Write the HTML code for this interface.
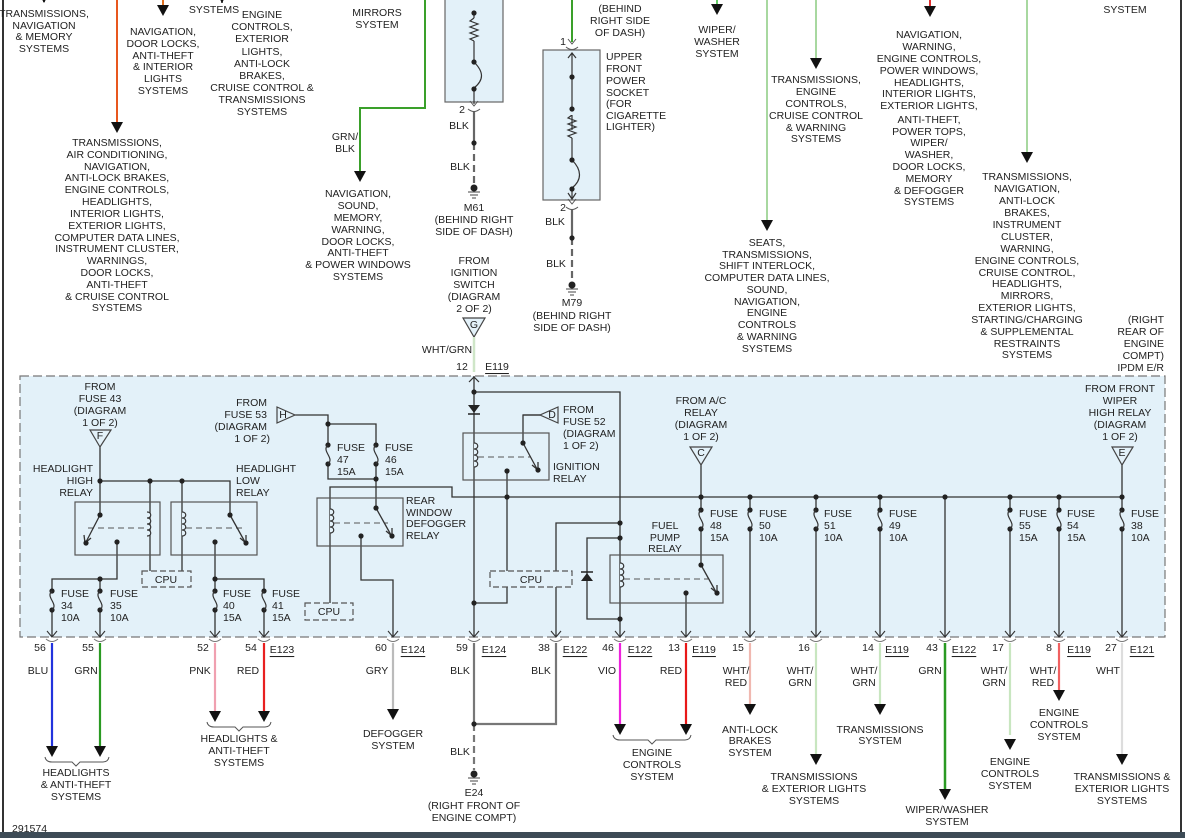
<!DOCTYPE html>
<html><head><meta charset="utf-8"><style>
html,body{margin:0;padding:0;background:#fff;}
svg{display:block;}
text{font-family:"Liberation Sans",sans-serif;font-size:10.5px;fill:#222;dominant-baseline:central;}
.c{text-anchor:middle;}
.r{text-anchor:end;}
.u{text-decoration:underline;}
</style></head><body>
<svg width="1185" height="838" viewBox="0 0 1185 838" xmlns="http://www.w3.org/2000/svg">
<defs>
<g id="fz"><circle cx="0" cy="0" r="2.6" fill="#222"/><circle cx="0" cy="19" r="2.6" fill="#222"/><path d="M0,0 C-7,6 7,13 0,19" fill="none" stroke="#333" stroke-width="1.2"/></g>
<polygon id="ar" points="-6,-11 6,-11 0,0" fill="#111"/>
<g id="tm"><path d="M-4,-7 L0,-2 L4,-7" fill="none" stroke="#555" stroke-width="1"/><path d="M-6,1 Q0,6 6,1" fill="none" stroke="#555" stroke-width="1"/></g>
<circle id="dt" r="2.6" fill="#222"/>
</defs>
<rect width="1185" height="838" fill="#fff"/>
<line x1="3" y1="0" x2="3" y2="832" stroke="#333" stroke-width="2"/>
<line x1="1181" y1="0" x2="1181" y2="832" stroke="#333" stroke-width="2"/>
<rect x="0" y="832" width="1185" height="6" fill="#3d4b56"/>

<rect x="20" y="376" width="1145" height="261" fill="#e3f1f9" stroke="#777" stroke-width="1.2" stroke-dasharray="9,4"/>

<g stroke-width="2" fill="none">
<line x1="44" y1="0" x2="44" y2="2" stroke="#666"/>
<line x1="117" y1="0" x2="117" y2="122" stroke="#e8571e"/>
<line x1="163" y1="0" x2="163" y2="5" stroke="#e07020"/>
<line x1="222" y1="0" x2="222" y2="3" stroke="#666"/>
<path d="M425,0 V108 H360 V172" stroke="#3aa02a"/>
<line x1="572" y1="0" x2="572" y2="42" stroke="#3aa02a"/>
<line x1="717" y1="0" x2="717" y2="5" stroke="#6c6"/>
<line x1="767" y1="0" x2="767" y2="220" stroke="#a8d8a0"/>
<line x1="816" y1="0" x2="816" y2="58" stroke="#a8d8a0"/>
<line x1="930" y1="0" x2="930" y2="6" stroke="#e03030"/>
<line x1="1027" y1="0" x2="1027" y2="152" stroke="#a8d8a0"/>
</g>
<use href="#ar" x="117" y="133"/><use href="#ar" x="163" y="16"/><use href="#ar" x="360" y="182"/>
<use href="#ar" x="717" y="15"/><use href="#ar" x="767" y="231"/><use href="#ar" x="816" y="69"/>
<use href="#ar" x="930" y="17"/><use href="#ar" x="1027" y="163"/>
<use href="#ar" x="44" y="3"/><use href="#ar" x="222" y="3"/>

<text class="c" x="44"><tspan x="44" y="14">TRANSMISSIONS,</tspan><tspan x="44" y="26">NAVIGATION</tspan><tspan x="44" y="37">&amp; MEMORY</tspan><tspan x="44" y="49">SYSTEMS</tspan></text>
<text class="c"><tspan x="163" y="32">NAVIGATION,</tspan><tspan x="163" y="44">DOOR LOCKS,</tspan><tspan x="163" y="56">ANTI-THEFT</tspan><tspan x="163" y="67">&amp; INTERIOR</tspan><tspan x="163" y="79">LIGHTS</tspan><tspan x="163" y="91">SYSTEMS</tspan></text>
<text class="c" x="214" y="10">SYSTEMS</text>
<text class="c"><tspan x="262" y="15">ENGINE</tspan><tspan x="262" y="27">CONTROLS,</tspan><tspan x="262" y="39">EXTERIOR</tspan><tspan x="262" y="52">LIGHTS,</tspan><tspan x="262" y="64">ANTI-LOCK</tspan><tspan x="262" y="76">BRAKES,</tspan><tspan x="262" y="88">CRUISE CONTROL &amp;</tspan><tspan x="262" y="100">TRANSMISSIONS</tspan><tspan x="262" y="112">SYSTEMS</tspan></text>
<text class="c"><tspan x="377" y="13">MIRRORS</tspan><tspan x="377" y="25">SYSTEM</tspan></text>
<text class="c"><tspan x="117" y="143">TRANSMISSIONS,</tspan><tspan x="117" y="155">AIR CONDITIONING,</tspan><tspan x="117" y="167">NAVIGATION,</tspan><tspan x="117" y="178">ANTI-LOCK BRAKES,</tspan><tspan x="117" y="190">ENGINE CONTROLS,</tspan><tspan x="117" y="202">HEADLIGHTS,</tspan><tspan x="117" y="214">INTERIOR LIGHTS,</tspan><tspan x="117" y="226">EXTERIOR LIGHTS,</tspan><tspan x="117" y="238">COMPUTER DATA LINES,</tspan><tspan x="117" y="249">INSTRUMENT CLUSTER,</tspan><tspan x="117" y="261">WARNINGS,</tspan><tspan x="117" y="273">DOOR LOCKS,</tspan><tspan x="117" y="285">ANTI-THEFT</tspan><tspan x="117" y="297">&amp; CRUISE CONTROL</tspan><tspan x="117" y="308">SYSTEMS</tspan></text>
<text class="c"><tspan x="345" y="137">GRN/</tspan><tspan x="345" y="149">BLK</tspan></text>
<text class="c"><tspan x="358" y="194">NAVIGATION,</tspan><tspan x="358" y="206">SOUND,</tspan><tspan x="358" y="218">MEMORY,</tspan><tspan x="358" y="230">WARNING,</tspan><tspan x="358" y="242">DOOR LOCKS,</tspan><tspan x="358" y="253">ANTI-THEFT</tspan><tspan x="358" y="265">&amp; POWER WINDOWS</tspan><tspan x="358" y="277">SYSTEMS</tspan></text>

<rect x="445" y="-2" width="58" height="104" fill="#e3f1f9" stroke="#666" stroke-width="1.2"/>
<g stroke="#333" stroke-width="1.2" fill="none">
<line x1="474" y1="12" x2="474" y2="18"/>
<path d="M474,18 l-4,3 8,3 -8,3 8,3 -8,3 8,3 -8,3 4,2"/>
<line x1="474" y1="41" x2="474" y2="62"/>
<path d="M474,62 C484,72 484,80 474,88"/>
<line x1="474" y1="88" x2="474" y2="104"/>
</g>
<use href="#dt" x="474" y="13"/><use href="#dt" x="474" y="62"/><use href="#dt" x="474" y="89"/>
<use href="#tm" x="474" y="108"/>
<text x="462" y="110" class="c">2</text>
<line x1="474" y1="112" x2="474" y2="143" stroke="#666" stroke-width="2.2"/>
<line x1="474" y1="143" x2="474" y2="186" stroke="#666" stroke-width="2.2" stroke-dasharray="7,4"/>
<use href="#dt" x="474" y="143"/>
<text x="459" y="126" class="c">BLK</text><text x="460" y="167" class="c">BLK</text>
<circle cx="474" cy="188" r="3.5" fill="#222"/>
<g stroke="#444" stroke-width="1"><line x1="468" y1="192" x2="480" y2="192"/><line x1="470" y1="195" x2="478" y2="195"/><line x1="472" y1="198" x2="476" y2="198"/></g>
<text class="c"><tspan x="474" y="208">M61</tspan><tspan x="474" y="220">(BEHIND RIGHT</tspan><tspan x="474" y="232">SIDE OF DASH)</tspan></text>
<text class="c"><tspan x="474" y="261">FROM</tspan><tspan x="474" y="273">IGNITION</tspan><tspan x="474" y="285">SWITCH</tspan><tspan x="474" y="297">(DIAGRAM</tspan><tspan x="474" y="309">2 OF 2)</tspan></text>
<polygon points="463,318 485,318 474,337" fill="#e3f1f9" stroke="#444" stroke-width="1.2"/>
<text x="474" y="325" class="c">G</text>
<line x1="474" y1="337" x2="474" y2="372" stroke="#cfe6c8" stroke-width="2.5"/>
<text x="447" y="350" class="c">WHT/GRN</text>
<text x="462" y="367" class="c">12</text><text x="497" y="367" class="c u">E119</text>

<use href="#tm" x="572" y="46"/>
<text x="563" y="42" class="c">1</text>
<rect x="543" y="50" width="57" height="150" fill="#e3f1f9" stroke="#666" stroke-width="1.2"/>
<g stroke="#333" stroke-width="1.2" fill="none">
<line x1="572" y1="53" x2="572" y2="130"/><path d="M568,58 L572,53 576,58"/>
<path d="M572,115 l-4,3 8,3 -8,3 8,3 -8,3 8,3 -8,3 4,2"/>
<line x1="572" y1="138" x2="572" y2="160"/>
<path d="M572,160 C582,170 582,180 572,188"/>
<line x1="572" y1="188" x2="572" y2="199"/><path d="M568,193 L572,199 576,193"/>
</g>
<rect x="571" y="110" width="2" height="5" fill="#e3f1f9"/>
<use href="#dt" x="572" y="77"/><use href="#dt" x="572" y="109"/><use href="#dt" x="572" y="160"/><use href="#dt" x="572" y="189"/>
<use href="#tm" x="572" y="206"/><text x="563" y="208" class="c">2</text>
<line x1="572" y1="210" x2="572" y2="238" stroke="#666" stroke-width="2.2"/>
<line x1="572" y1="238" x2="572" y2="283" stroke="#666" stroke-width="2.2" stroke-dasharray="7,4"/>
<use href="#dt" x="572" y="238"/>
<text x="555" y="222" class="c">BLK</text><text x="556" y="264" class="c">BLK</text>
<circle cx="572" cy="285" r="3.5" fill="#222"/>
<g stroke="#444" stroke-width="1"><line x1="566" y1="289" x2="578" y2="289"/><line x1="568" y1="292" x2="576" y2="292"/><line x1="570" y1="295" x2="574" y2="295"/></g>
<text class="c"><tspan x="572" y="303">M79</tspan><tspan x="572" y="316">(BEHIND RIGHT</tspan><tspan x="572" y="328">SIDE OF DASH)</tspan></text>
<text class="c"><tspan x="620" y="9">(BEHIND</tspan><tspan x="620" y="21">RIGHT SIDE</tspan><tspan x="620" y="33">OF DASH)</tspan></text>
<text><tspan x="606" y="57">UPPER</tspan><tspan x="606" y="69">FRONT</tspan><tspan x="606" y="81">POWER</tspan><tspan x="606" y="93">SOCKET</tspan><tspan x="606" y="104">(FOR</tspan><tspan x="606" y="116">CIGARETTE</tspan><tspan x="606" y="127">LIGHTER)</tspan></text>

<text class="c"><tspan x="717" y="30">WIPER/</tspan><tspan x="717" y="42">WASHER</tspan><tspan x="717" y="54">SYSTEM</tspan></text>
<text class="c"><tspan x="767" y="243">SEATS,</tspan><tspan x="767" y="255">TRANSMISSIONS,</tspan><tspan x="767" y="266">SHIFT INTERLOCK,</tspan><tspan x="767" y="278">COMPUTER DATA LINES,</tspan><tspan x="767" y="290">SOUND,</tspan><tspan x="767" y="302">NAVIGATION,</tspan><tspan x="767" y="313">ENGINE</tspan><tspan x="767" y="325">CONTROLS</tspan><tspan x="767" y="337">&amp; WARNING</tspan><tspan x="767" y="349">SYSTEMS</tspan></text>
<text class="c"><tspan x="816" y="80">TRANSMISSIONS,</tspan><tspan x="816" y="92">ENGINE</tspan><tspan x="816" y="104">CONTROLS,</tspan><tspan x="816" y="116">CRUISE CONTROL</tspan><tspan x="816" y="128">&amp; WARNING</tspan><tspan x="816" y="139">SYSTEMS</tspan></text>
<text class="c"><tspan x="929" y="35">NAVIGATION,</tspan><tspan x="929" y="47">WARNING,</tspan><tspan x="929" y="59">ENGINE CONTROLS,</tspan><tspan x="929" y="71">POWER WINDOWS,</tspan><tspan x="929" y="83">HEADLIGHTS,</tspan><tspan x="929" y="94">INTERIOR LIGHTS,</tspan><tspan x="929" y="106">EXTERIOR LIGHTS,</tspan><tspan x="929" y="120">ANTI-THEFT,</tspan><tspan x="929" y="132">POWER TOPS,</tspan><tspan x="929" y="143">WIPER/</tspan><tspan x="929" y="155">WASHER,</tspan><tspan x="929" y="167">DOOR LOCKS,</tspan><tspan x="929" y="179">MEMORY</tspan><tspan x="929" y="191">&amp; DEFOGGER</tspan><tspan x="929" y="202">SYSTEMS</tspan></text>
<text class="c"><tspan x="1027" y="177">TRANSMISSIONS,</tspan><tspan x="1027" y="189">NAVIGATION,</tspan><tspan x="1027" y="201">ANTI-LOCK</tspan><tspan x="1027" y="213">BRAKES,</tspan><tspan x="1027" y="225">INSTRUMENT</tspan><tspan x="1027" y="237">CLUSTER,</tspan><tspan x="1027" y="249">WARNING,</tspan><tspan x="1027" y="261">ENGINE CONTROLS,</tspan><tspan x="1027" y="273">CRUISE CONTROL,</tspan><tspan x="1027" y="284">HEADLIGHTS,</tspan><tspan x="1027" y="296">MIRRORS,</tspan><tspan x="1027" y="308">EXTERIOR LIGHTS,</tspan><tspan x="1027" y="320">STARTING/CHARGING</tspan><tspan x="1027" y="332">&amp; SUPPLEMENTAL</tspan><tspan x="1027" y="344">RESTRAINTS</tspan><tspan x="1027" y="355">SYSTEMS</tspan></text>
<text class="c" x="1125" y="10">SYSTEM</text>
<text class="r"><tspan x="1164" y="320">(RIGHT</tspan><tspan x="1164" y="332">REAR OF</tspan><tspan x="1164" y="344">ENGINE</tspan><tspan x="1164" y="356">COMPT)</tspan><tspan x="1164" y="368">IPDM E/R</tspan></text>

<g stroke="#333" stroke-width="1.3" fill="none">
<path d="M100,447 V481 H230 V515"/>
<line x1="150" y1="481" x2="150" y2="571"/>
<line x1="182" y1="481" x2="182" y2="571"/>
<path d="M100,481 V515"/>
<path d="M117,542 V579 H52 V637"/>
<line x1="100" y1="579" x2="100" y2="637"/>
<path d="M215,542 V579 H264 V637"/>
<line x1="215" y1="579" x2="215" y2="637"/>
<path d="M295,415 H328 V479 H376 V424 H328"/>
<line x1="376" y1="479" x2="376" y2="508"/>
<path d="M330,603 V487 H452 V497 H1122"/>
<path d="M361,536 V580 H393 V637"/>
<line x1="474" y1="376" x2="474" y2="637"/>
<path d="M474,392 H620 V637"/>
<path d="M558,415 H523 V443"/>
<path d="M507,471 V571"/>
<path d="M507,587 V603 H474"/>
<path d="M556,571 V523 H620"/>
<line x1="556" y1="587" x2="556" y2="637"/>
<path d="M620,538 H587 V619 H620"/>
<path d="M686,593 V637"/>
<path d="M701,465 V565"/>
<line x1="750" y1="497" x2="750" y2="637"/>
<line x1="816" y1="497" x2="816" y2="637"/>
<line x1="880" y1="497" x2="880" y2="637"/>
<line x1="945" y1="497" x2="945" y2="637"/>
<line x1="1010" y1="497" x2="1010" y2="637"/>
<line x1="1059" y1="497" x2="1059" y2="637"/>
<line x1="1122" y1="465" x2="1122" y2="637"/>
</g>
<g fill="none" stroke="#555" stroke-width="1.2">
<rect x="75" y="502" width="85" height="53"/>
<rect x="171" y="502" width="86" height="53"/>
<rect x="317" y="498" width="86" height="48"/>
<rect x="463" y="433" width="86" height="47"/>
<rect x="610" y="555" width="113" height="48"/>
</g>
<g fill="#e3f1f9" stroke="#333" stroke-width="1.2">
<path d="M147,512 c5,0 5,6 0,6 c5,0 5,6 0,6 c5,0 5,6 0,6 c5,0 5,6 0,6"/>
<path d="M182,512 c5,0 5,6 0,6 c5,0 5,6 0,6 c5,0 5,6 0,6 c5,0 5,6 0,6"/>
<path d="M330,509 c5,0 5,6 0,6 c5,0 5,6 0,6 c5,0 5,6 0,6 c5,0 5,6 0,6"/>
<path d="M474,443 c5,0 5,6 0,6 c5,0 5,6 0,6 c5,0 5,6 0,6 c5,0 5,6 0,6"/>
<path d="M620,563 c5,0 5,6 0,6 c5,0 5,6 0,6 c5,0 5,6 0,6 c5,0 5,6 0,6"/>
</g>
<g stroke="#555" stroke-width="1" stroke-dasharray="6,4"><line x1="88" y1="528" x2="145" y2="528"/><line x1="186" y1="528" x2="243" y2="528"/><line x1="334" y1="523" x2="388" y2="523"/><line x1="478" y1="457" x2="530" y2="457"/><line x1="624" y1="579" x2="708" y2="579"/></g>
<g stroke="#333" stroke-width="1.3" fill="none">
<line x1="100" y1="515" x2="86" y2="542"/><path d="M84,535 L85,543 91,538"/>
<line x1="230" y1="515" x2="245" y2="542"/><path d="M240,538 L246,543 246,535"/>
<line x1="376" y1="508" x2="391" y2="535"/><path d="M386,531 L392,536 392,528"/>
<line x1="523" y1="443" x2="537" y2="469"/><path d="M532,465 L538,470 538,462"/>
<line x1="701" y1="565" x2="716" y2="592"/><path d="M711,588 L717,593 717,585"/>
</g>
<g>
<use href="#dt" x="100" y="515"/><use href="#dt" x="86" y="543"/><use href="#dt" x="117" y="542"/>
<use href="#dt" x="230" y="515"/><use href="#dt" x="246" y="543"/><use href="#dt" x="215" y="542"/>
<use href="#dt" x="376" y="508"/><use href="#dt" x="392" y="536"/><use href="#dt" x="361" y="536"/>
<use href="#dt" x="523" y="443"/><use href="#dt" x="538" y="470"/><use href="#dt" x="507" y="471"/>
<use href="#dt" x="701" y="565"/><use href="#dt" x="717" y="593"/><use href="#dt" x="686" y="593"/>
<use href="#dt" x="100" y="481"/><use href="#dt" x="150" y="481"/><use href="#dt" x="182" y="481"/>
<use href="#dt" x="100" y="579"/><use href="#dt" x="215" y="579"/>
<use href="#dt" x="328" y="424"/><use href="#dt" x="376" y="479"/>
<use href="#dt" x="474" y="392"/><use href="#dt" x="474" y="603"/>
<use href="#dt" x="620" y="523"/><use href="#dt" x="620" y="538"/><use href="#dt" x="620" y="619"/>
<use href="#dt" x="507" y="497"/><use href="#dt" x="701" y="497"/><use href="#dt" x="750" y="497"/><use href="#dt" x="816" y="497"/><use href="#dt" x="880" y="497"/><use href="#dt" x="945" y="497"/><use href="#dt" x="1010" y="497"/><use href="#dt" x="1059" y="497"/><use href="#dt" x="1122" y="497"/>
</g>
<g>
<rect x="45" y="591" width="14" height="19" fill="#e3f1f9"/><use href="#fz" x="52" y="591"/>
<rect x="93" y="591" width="14" height="19" fill="#e3f1f9"/><use href="#fz" x="100" y="591"/>
<rect x="208" y="591" width="14" height="19" fill="#e3f1f9"/><use href="#fz" x="215" y="591"/>
<rect x="257" y="591" width="14" height="19" fill="#e3f1f9"/><use href="#fz" x="264" y="591"/>
<rect x="321" y="445" width="14" height="19" fill="#e3f1f9"/><use href="#fz" x="328" y="445"/>
<rect x="369" y="445" width="14" height="19" fill="#e3f1f9"/><use href="#fz" x="376" y="445"/>
<rect x="694" y="510" width="14" height="19" fill="#e3f1f9"/><use href="#fz" x="701" y="510"/>
<rect x="743" y="510" width="14" height="19" fill="#e3f1f9"/><use href="#fz" x="750" y="510"/>
<rect x="809" y="510" width="14" height="19" fill="#e3f1f9"/><use href="#fz" x="816" y="510"/>
<rect x="873" y="510" width="14" height="19" fill="#e3f1f9"/><use href="#fz" x="880" y="510"/>
<rect x="1003" y="510" width="14" height="19" fill="#e3f1f9"/><use href="#fz" x="1010" y="510"/>
<rect x="1052" y="510" width="14" height="19" fill="#e3f1f9"/><use href="#fz" x="1059" y="510"/>
<rect x="1115" y="510" width="14" height="19" fill="#e3f1f9"/><use href="#fz" x="1122" y="510"/>
</g>
<polygon points="468,405 480,405 474,413" fill="#222"/><line x1="468" y1="414" x2="480" y2="414" stroke="#222" stroke-width="1.5"/>
<polygon points="581,581 593,581 587,573" fill="#222"/><line x1="581" y1="572" x2="593" y2="572" stroke="#222" stroke-width="1.5"/>
<path d="M469,382 L474,377 479,382" fill="none" stroke="#333" stroke-width="1.2"/>
<g fill="#e3f1f9" stroke="#555" stroke-width="1.2" stroke-dasharray="6,3">
<rect x="142" y="571" width="49" height="16"/>
<rect x="305" y="603" width="48" height="17"/>
<rect x="490" y="571" width="82" height="16"/>
</g>
<text x="166" y="580" class="c">CPU</text><text x="329" y="612" class="c">CPU</text><text x="531" y="580" class="c">CPU</text>
<g fill="#e3f1f9" stroke="#444" stroke-width="1.2">
<polygon points="90,430 111,430 100,447"/>
<polygon points="277,407 277,423 295,415"/>
<polygon points="558,407 558,423 540,415"/>
<polygon points="690,447 712,447 701,465"/>
<polygon points="1112,447 1133,447 1122,465"/>
</g>
<line x1="540" y1="415" x2="523" y2="415" stroke="#333" stroke-width="1.3"/>
<text x="100" y="436" class="c">F</text><text x="283" y="415" class="c">H</text><text x="552" y="415" class="c">D</text><text x="701" y="453" class="c">C</text><text x="1122" y="453" class="c">E</text>
<text class="c"><tspan x="100" y="387">FROM</tspan><tspan x="100" y="399">FUSE 43</tspan><tspan x="100" y="411">(DIAGRAM</tspan><tspan x="100" y="423">1 OF 2)</tspan></text>
<text class="r"><tspan x="93" y="469">HEADLIGHT</tspan><tspan x="93" y="481">HIGH</tspan><tspan x="93" y="493">RELAY</tspan></text>
<text><tspan x="236" y="469">HEADLIGHT</tspan><tspan x="236" y="481">LOW</tspan><tspan x="236" y="493">RELAY</tspan></text>
<text class="r"><tspan x="267" y="403">FROM</tspan><tspan x="267" y="415">FUSE 53</tspan><tspan x="267" y="427">(DIAGRAM</tspan><tspan x="270" y="439">1 OF 2)</tspan></text>
<text><tspan x="406" y="501">REAR</tspan><tspan x="406" y="513">WINDOW</tspan><tspan x="406" y="524">DEFOGGER</tspan><tspan x="406" y="536">RELAY</tspan></text>
<text><tspan x="563" y="410">FROM</tspan><tspan x="563" y="422">FUSE 52</tspan><tspan x="563" y="434">(DIAGRAM</tspan><tspan x="563" y="446">1 OF 2)</tspan></text>
<text><tspan x="553" y="467">IGNITION</tspan><tspan x="553" y="479">RELAY</tspan></text>
<text class="c"><tspan x="665" y="526">FUEL</tspan><tspan x="665" y="538">PUMP</tspan><tspan x="665" y="549">RELAY</tspan></text>
<text class="c"><tspan x="701" y="401">FROM A/C</tspan><tspan x="701" y="413">RELAY</tspan><tspan x="701" y="425">(DIAGRAM</tspan><tspan x="701" y="437">1 OF 2)</tspan></text>
<text class="c"><tspan x="1120" y="389">FROM FRONT</tspan><tspan x="1120" y="401">WIPER</tspan><tspan x="1120" y="413">HIGH RELAY</tspan><tspan x="1120" y="425">(DIAGRAM</tspan><tspan x="1120" y="437">1 OF 2)</tspan></text>
<text><tspan x="61" y="594">FUSE</tspan><tspan x="61" y="606">34</tspan><tspan x="61" y="618">10A</tspan></text>
<text><tspan x="110" y="594">FUSE</tspan><tspan x="110" y="606">35</tspan><tspan x="110" y="618">10A</tspan></text>
<text><tspan x="223" y="594">FUSE</tspan><tspan x="223" y="606">40</tspan><tspan x="223" y="618">15A</tspan></text>
<text><tspan x="272" y="594">FUSE</tspan><tspan x="272" y="606">41</tspan><tspan x="272" y="618">15A</tspan></text>
<text><tspan x="337" y="448">FUSE</tspan><tspan x="337" y="460">47</tspan><tspan x="337" y="472">15A</tspan></text>
<text><tspan x="385" y="448">FUSE</tspan><tspan x="385" y="460">46</tspan><tspan x="385" y="472">15A</tspan></text>
<text><tspan x="710" y="514">FUSE</tspan><tspan x="710" y="526">48</tspan><tspan x="710" y="538">15A</tspan></text>
<text><tspan x="759" y="514">FUSE</tspan><tspan x="759" y="526">50</tspan><tspan x="759" y="538">10A</tspan></text>
<text><tspan x="824" y="514">FUSE</tspan><tspan x="824" y="526">51</tspan><tspan x="824" y="538">10A</tspan></text>
<text><tspan x="889" y="514">FUSE</tspan><tspan x="889" y="526">49</tspan><tspan x="889" y="538">10A</tspan></text>
<text><tspan x="1019" y="514">FUSE</tspan><tspan x="1019" y="526">55</tspan><tspan x="1019" y="538">15A</tspan></text>
<text><tspan x="1067" y="514">FUSE</tspan><tspan x="1067" y="526">54</tspan><tspan x="1067" y="538">15A</tspan></text>
<text><tspan x="1131" y="514">FUSE</tspan><tspan x="1131" y="526">38</tspan><tspan x="1131" y="538">10A</tspan></text>
<g stroke="#333" stroke-width="1.1" fill="none">
<path d="M47,631 L52,637 57,631"/><path d="M95,631 L100,637 105,631"/><path d="M210,631 L215,637 220,631"/><path d="M259,631 L264,637 269,631"/><path d="M388,631 L393,637 398,631"/><path d="M469,631 L474,637 479,631"/><path d="M551,631 L556,637 561,631"/><path d="M615,631 L620,637 625,631"/><path d="M681,631 L686,637 691,631"/><path d="M745,631 L750,637 755,631"/><path d="M811,631 L816,637 821,631"/><path d="M875,631 L880,637 885,631"/><path d="M940,631 L945,637 950,631"/><path d="M1005,631 L1010,637 1015,631"/><path d="M1054,631 L1059,637 1064,631"/><path d="M1117,631 L1122,637 1127,631"/>
</g>

<g fill="none" stroke="#777" stroke-width="1">
<path d="M46,639 Q52,644 58,639"/><path d="M94,639 Q100,644 106,639"/><path d="M209,639 Q215,644 221,639"/><path d="M258,639 Q264,644 270,639"/><path d="M387,639 Q393,644 399,639"/><path d="M468,639 Q474,644 480,639"/><path d="M550,639 Q556,644 562,639"/><path d="M614,639 Q620,644 626,639"/><path d="M680,639 Q686,644 692,639"/><path d="M744,639 Q750,644 756,639"/><path d="M810,639 Q816,644 822,639"/><path d="M874,639 Q880,644 886,639"/><path d="M939,639 Q945,644 951,639"/><path d="M1004,639 Q1010,644 1016,639"/><path d="M1053,639 Q1059,644 1065,639"/><path d="M1116,639 Q1122,644 1128,639"/>
</g>
<g stroke-width="2.2" fill="none">
<line x1="52" y1="643" x2="52" y2="746" stroke="#2233dd"/>
<line x1="100" y1="643" x2="100" y2="746" stroke="#2a9a22"/>
<line x1="215" y1="643" x2="215" y2="712" stroke="#f0a0b0"/>
<line x1="264" y1="643" x2="264" y2="712" stroke="#e82020"/>
<line x1="393" y1="643" x2="393" y2="710" stroke="#bbb"/>
<line x1="474" y1="643" x2="474" y2="724" stroke="#777"/>
<line x1="474" y1="724" x2="474" y2="770" stroke="#777" stroke-dasharray="7,4"/>
<path d="M474,724 H556 V643" stroke="#777"/>
<line x1="620" y1="643" x2="620" y2="725" stroke="#ee22dd"/>
<line x1="686" y1="643" x2="686" y2="725" stroke="#e81818"/>
<line x1="750" y1="643" x2="750" y2="705" stroke="#f0b8b0"/>
<line x1="816" y1="643" x2="816" y2="755" stroke="#c8e6c0"/>
<line x1="880" y1="643" x2="880" y2="705" stroke="#c8e6c0"/>
<line x1="945" y1="643" x2="945" y2="790" stroke="#2a9a22" stroke-width="2.5"/>
<line x1="1010" y1="643" x2="1010" y2="735" stroke="#c8e6c0"/>
<line x1="1059" y1="643" x2="1059" y2="690" stroke="#f06060"/>
<line x1="1122" y1="643" x2="1122" y2="755" stroke="#ddd"/>
</g>
<use href="#ar" x="52" y="757"/><use href="#ar" x="100" y="757"/><use href="#ar" x="215" y="722"/><use href="#ar" x="264" y="722"/><use href="#ar" x="393" y="720"/><use href="#ar" x="620" y="735"/><use href="#ar" x="686" y="735"/><use href="#ar" x="750" y="715"/><use href="#ar" x="816" y="765"/><use href="#ar" x="880" y="715"/><use href="#ar" x="945" y="800"/><use href="#ar" x="1010" y="750"/><use href="#ar" x="1059" y="701"/><use href="#ar" x="1122" y="765"/>
<use href="#dt" x="474" y="724"/>
<circle cx="474" cy="774" r="3.5" fill="#222"/>
<g stroke="#444" stroke-width="1"><line x1="468" y1="778" x2="480" y2="778"/><line x1="470" y1="781" x2="478" y2="781"/><line x1="472" y1="784" x2="476" y2="784"/></g>
<g fill="none" stroke="#555" stroke-width="1">
<path d="M45,757 Q46,762 52,762 H72 L76,766 80,762 H103 Q108,762 109,757"/>
<path d="M207,722 Q208,727 214,727 H235 L239,731 243,727 H265 Q270,727 271,722"/>
<path d="M613,735 Q614,740 620,740 H648 L652,744 656,740 H685 Q690,740 691,735"/>
</g>
<text class="c" x="40" y="648">56</text><text class="c" x="88" y="648">55</text><text class="c" x="203" y="648">52</text><text class="c" x="251" y="648">54</text><text class="c u" x="282" y="650">E123</text>
<text class="c" x="381" y="648">60</text><text class="c u" x="413" y="650">E124</text><text class="c" x="462" y="648">59</text><text class="c u" x="494" y="650">E124</text><text class="c" x="544" y="648">38</text><text class="c u" x="575" y="650">E122</text>
<text class="c" x="608" y="648">46</text><text class="c u" x="640" y="650">E122</text><text class="c" x="674" y="648">13</text><text class="c u" x="704" y="650">E119</text><text class="c" x="738" y="648">15</text><text class="c" x="804" y="648">16</text>
<text class="c" x="868" y="648">14</text><text class="c u" x="897" y="650">E119</text><text class="c" x="932" y="648">43</text><text class="c u" x="964" y="650">E122</text><text class="c" x="998" y="648">17</text><text class="c" x="1049" y="648">8</text><text class="c u" x="1079" y="650">E119</text><text class="c" x="1111" y="648">27</text><text class="c u" x="1142" y="650">E121</text>
<text class="c" x="38" y="671">BLU</text><text class="c" x="86" y="671">GRN</text><text class="c" x="200" y="671">PNK</text><text class="c" x="248" y="671">RED</text><text class="c" x="377" y="671">GRY</text><text class="c" x="460" y="671">BLK</text><text class="c" x="541" y="671">BLK</text><text class="c" x="607" y="671">VIO</text><text class="c" x="671" y="671">RED</text>
<text class="c"><tspan x="736" y="671">WHT/</tspan><tspan x="736" y="683">RED</tspan></text>
<text class="c"><tspan x="800" y="671">WHT/</tspan><tspan x="800" y="683">GRN</tspan></text>
<text class="c"><tspan x="864" y="671">WHT/</tspan><tspan x="864" y="683">GRN</tspan></text>
<text class="c" x="930" y="671">GRN</text>
<text class="c"><tspan x="994" y="671">WHT/</tspan><tspan x="994" y="683">GRN</tspan></text>
<text class="c"><tspan x="1043" y="671">WHT/</tspan><tspan x="1043" y="683">RED</tspan></text>
<text class="c" x="1108" y="671">WHT</text>
<text class="c" x="460" y="752">BLK</text>
<text class="c"><tspan x="76" y="773">HEADLIGHTS</tspan><tspan x="76" y="785">&amp; ANTI-THEFT</tspan><tspan x="76" y="797">SYSTEMS</tspan></text>
<text class="c"><tspan x="239" y="739">HEADLIGHTS &amp;</tspan><tspan x="239" y="751">ANTI-THEFT</tspan><tspan x="239" y="763">SYSTEMS</tspan></text>
<text class="c"><tspan x="393" y="734">DEFOGGER</tspan><tspan x="393" y="746">SYSTEM</tspan></text>
<text class="c"><tspan x="474" y="793">E24</tspan><tspan x="474" y="806">(RIGHT FRONT OF</tspan><tspan x="474" y="818">ENGINE COMPT)</tspan></text>
<text class="c"><tspan x="652" y="753">ENGINE</tspan><tspan x="652" y="765">CONTROLS</tspan><tspan x="652" y="777">SYSTEM</tspan></text>
<text class="c"><tspan x="750" y="730">ANTI-LOCK</tspan><tspan x="750" y="741">BRAKES</tspan><tspan x="750" y="753">SYSTEM</tspan></text>
<text class="c"><tspan x="814" y="777">TRANSMISSIONS</tspan><tspan x="814" y="789">&amp; EXTERIOR LIGHTS</tspan><tspan x="814" y="801">SYSTEMS</tspan></text>
<text class="c"><tspan x="880" y="730">TRANSMISSIONS</tspan><tspan x="880" y="741">SYSTEM</tspan></text>
<text class="c"><tspan x="947" y="810">WIPER/WASHER</tspan><tspan x="947" y="822">SYSTEM</tspan></text>
<text class="c"><tspan x="1010" y="762">ENGINE</tspan><tspan x="1010" y="774">CONTROLS</tspan><tspan x="1010" y="786">SYSTEM</tspan></text>
<text class="c"><tspan x="1059" y="713">ENGINE</tspan><tspan x="1059" y="725">CONTROLS</tspan><tspan x="1059" y="737">SYSTEM</tspan></text>
<text class="c"><tspan x="1122" y="777">TRANSMISSIONS &amp;</tspan><tspan x="1122" y="789">EXTERIOR LIGHTS</tspan><tspan x="1122" y="801">SYSTEMS</tspan></text>
<text x="12" y="829">291574</text>
</svg>
</body></html>
